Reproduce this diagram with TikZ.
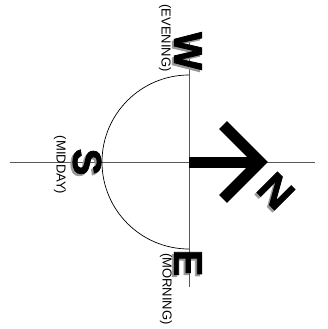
\documentclass[tikz,border=0pt]{standalone}
\usepackage{fontspec}
\setmainfont{Liberation Sans}
\newfontfamily\bigfont[FakeBold=2]{Liberation Sans Bold}
\begin{document}
\begin{tikzpicture}[x=1pt,y=-1pt]
\tikzset{
  axisline/.style={draw=black!65, line width=0.8pt},
  arcline/.style={draw=black, line width=0.7pt},
  bigletter/.style={font=\bigfont\fontsize{40}{40}\selectfont, inner sep=0pt, text=black},
  shadowletter/.style={bigletter, text=black!40},
  timelabel/.style={font=\fontsize{13}{13}\selectfont, inner sep=0pt, rotate=-90},
  arrowpart/.style={draw=black, line width=11pt, line join=miter}
}
\useasboundingbox (0,0) rectangle (327,329);
\coordinate (c) at (189,162);
\coordinate (vt) at (189,37);
\coordinate (vb) at (189,287);
\coordinate (hl) at (10,162);
\coordinate (hr) at (315,162);
\draw[axisline] (vt) -- (vb);
\draw[axisline] (hl) -- (hr);
\draw[arcline] (189,75) arc[start angle=-90, end angle=-270, radius=87];
% arrow
\coordinate (ap) at (260,162);
\coordinate (au) at (223,125);
\coordinate (ad) at (223,199);
\draw[arrowpart, line cap=butt] (c) -- (255,162);
\draw[arrowpart] (au) -- (ap) -- (ad);
% letters with shadows
\node[shadowletter, rotate=-90] (ws) at (186,53) {W};
\node[bigletter, rotate=-90] (w) at (188,51) {W};
\node[shadowletter, rotate=-90] (ss) at (85,164) {S};
\node[bigletter, rotate=-90] (s) at (87,162) {S};
\node[shadowletter, rotate=-90] (es) at (186,265) {E};
\node[bigletter, rotate=-90] (e) at (188,263) {E};
\node[shadowletter, rotate=-45, font=\bigfont\fontsize{42}{42}\selectfont] (ns) at (274,193) {N};
\node[bigletter, rotate=-45, font=\bigfont\fontsize{42}{42}\selectfont] (n) at (276,191) {N};
% labels
\node[timelabel] (ev) at (165,38) {(EVENING)};
\node[timelabel] (md) at (60,165) {(MIDDAY)};
\node[timelabel] (mo) at (166,289) {(MORNING)};
\end{tikzpicture}
\end{document}
